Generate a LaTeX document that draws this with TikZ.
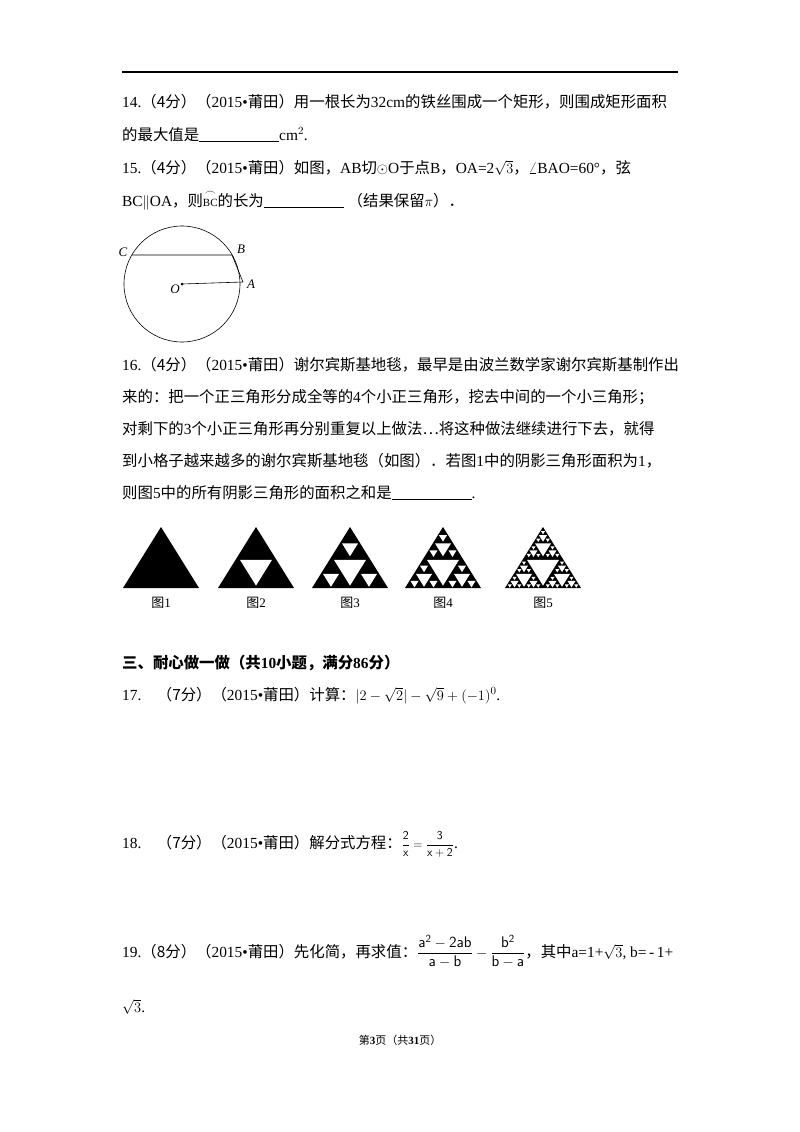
\documentclass[tikz,border=0pt]{standalone}
\usepackage{fontspec}
\usepackage{amsmath}
\setmainfont{Liberation Serif}
\newfontfamily\cjk{Noto Sans CJK SC}
\newcommand\zh[1]{{\cjk #1}}
\newcommand\blank{\rule[-1.5pt]{80pt}{0.6pt}}
\newcommand\holes[1]{\ifnum#1>0
 \fill[white] (0.5,0.04)--(0.29,0.46)--(0.71,0.46)--cycle;
 \begin{scope}[scale=0.5]\holes{\numexpr#1-1\relax}\end{scope}
 \begin{scope}[shift={(0.5,0)},scale=0.5]\holes{\numexpr#1-1\relax}\end{scope}
 \begin{scope}[shift={(0.25,0.5)},scale=0.5]\holes{\numexpr#1-1\relax}\end{scope}
\fi}
\begin{document}
\begin{tikzpicture}[x=1pt,y=-1pt,
 txt/.style={anchor=base west,inner sep=0pt,font=\fontsize{15.4}{18}\selectfont},
 lab/.style={inner sep=0pt,font=\fontsize{13}{15}\selectfont\itshape}]
\useasboundingbox[fill=white] (0,0) rectangle (800,1132);
\draw[line width=1.2pt] (122,72) -- (678,72);
\node[txt] (l1) at (122,107) {14.\zh{（4分）（}2015•\zh{莆田）用一根长为}32cm\zh{的铁丝围成一个矩形，则围成矩形面积}};
\node[txt] (l2) at (122,140) {\zh{的最大值是}\blank cm$^2$.};
\node[txt] (l3) at (122,173) {15.\zh{（4分）（}2015•\zh{莆田）如图，}AB\zh{切}$\odot$O\zh{于点}B\zh{，}OA=2$\sqrt{3}$\zh{，}$\angle$BAO=60°\zh{，弦}};
\node[txt] (l4) at (122,206) {BC$\parallel$OA\zh{，则}$\overset{\frown}{\text{\fontsize{11}{12}\selectfont BC}}$\zh{的长为}\blank\ \zh{（结果保留}$\pi$\zh{）．}};
% circle
\coordinate (O) at (182,284);
\draw[line width=0.6pt] (O) circle (58);
\coordinate (C) at (132,255);
\coordinate (B) at (232,255);
\coordinate (A) at (243,282);
\draw[line width=0.6pt] (C) -- (B) -- (A) -- (O);
\fill (O) circle (1.5);
\node[lab] (lc) at (123,252) {C};
\node[lab] (lb) at (241,249) {B};
\node[lab] (lo) at (175,289) {O};
\node[lab] (la) at (251,284) {A};
% 16
\node[txt] (m1) at (122,370) {16.\zh{（4分）（}2015•\zh{莆田）谢尔宾斯基地毯，最早是由波兰数学家谢尔宾斯基制作出}};
\node[txt] (m2) at (122,402) {\zh{来的：把一个正三角形分成全等的}4\zh{个小正三角形，挖去中间的一个小三角形；}};
\node[txt] (m3) at (122,434) {\zh{对剩下的}3\zh{个小正三角形再分别重复以上做法…将这种做法继续进行下去，就得}};
\node[txt] (m4) at (122,466) {\zh{到小格子越来越多的谢尔宾斯基地毯（如图）．若图}1\zh{中的阴影三角形面积为}1\zh{，}};
\node[txt] (m5) at (122,498) {\zh{则图}5\zh{中的所有阴影三角形的面积之和是}\blank.};
\foreach \x/\n [count=\i from 0] in {123/1,218/2,312/3,405/4,505/5}{
 \begin{scope}[shift={(\x,588)},x=76pt,y=61pt]
  \fill (0,0)--(1,0)--(0.5,1)--cycle;
  \holes{\i}
 \end{scope}
 \node[font=\fontsize{13}{15}\selectfont] (f\n) at (\x+38,603) {\zh{图}\n};
}
\node[txt] (h3) at (122,668) {\zh{\bfseries 三、耐心做一做（共}\textbf{10}\zh{\bfseries 小题，满分}\textbf{86}\zh{\bfseries 分）}};
\node[txt] (q17) at (122,700) {17.\quad\zh{（7分）（}2015•\zh{莆田）计算：}$|2-\sqrt{2}|-\sqrt{9}+(-1)^0$.};
\node[txt] (q18) at (122,848) {18.\quad\zh{（7分）（}2015•\zh{莆田）解分式方程：}{\fontsize{12}{14}\selectfont$\dfrac{\mathsf{2}}{\mathsf{x}}=\dfrac{\mathsf{3}}{\mathsf{x+2}}$}.};
\node[txt] (q19) at (122,957) {19.\zh{（8分）（}2015•\zh{莆田）先化简，再求值：}$\dfrac{\mathsf{a^2-2ab}}{\mathsf{a-b}}-\dfrac{\mathsf{b^2}}{\mathsf{b-a}}$\zh{，其中}a=1+$\sqrt{3}$, b=\,-\,1+};
\node[txt] (q19b) at (122,1012) {$\sqrt{3}$.};
\node[font=\fontsize{11}{13}\selectfont] (foot) at (400,1040) {\zh{第}\textbf{3}\zh{页（共}\textbf{31}\zh{页）}};
\end{tikzpicture}
\end{document}
